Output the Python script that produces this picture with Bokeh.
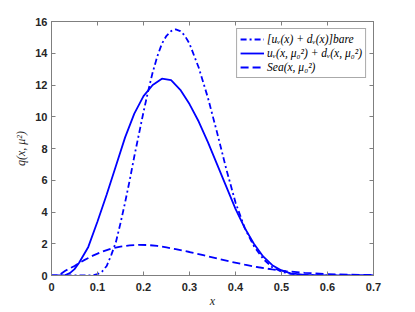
from bokeh.plotting import figure
from bokeh.models import Range1d, FixedTicker, LinearAxis, Legend, LegendItem
from bokeh.embed import file_html
from bokeh.resources import INLINE

# ---- data ----
x_bare = [0.0, 0.08, 0.09, 0.10, 0.11, 0.12, 0.13, 0.14, 0.15, 0.16, 0.17, 0.18, 0.19,
          0.20, 0.21, 0.22, 0.23, 0.24, 0.25, 0.26, 0.27, 0.28, 0.29, 0.30, 0.32,
          0.34, 0.36, 0.38, 0.40, 0.42, 0.44, 0.46, 0.48, 0.50, 0.52, 0.55, 0.60, 0.70]
y_bare = [0.0, 0.0, 0.02, 0.08, 0.25, 0.6, 1.3, 2.1, 3.3, 4.6, 6.0, 7.5, 8.9,
          10.3, 11.6, 12.8, 13.8, 14.6, 15.1, 15.4, 15.5, 15.4, 15.1, 14.6, 13.1,
          11.2, 9.0, 6.7, 4.6, 3.0, 1.85, 1.05, 0.52, 0.24, 0.1, 0.03, 0.0, 0.0]

x_val = [0.0, 0.02, 0.03, 0.04, 0.05, 0.06, 0.08, 0.10, 0.12, 0.14, 0.16, 0.18, 0.20,
         0.22, 0.24, 0.26, 0.28, 0.30, 0.32, 0.34, 0.36, 0.38, 0.40, 0.42, 0.44,
         0.46, 0.48, 0.50, 0.52, 0.55, 0.60, 0.65, 0.70]
y_val = [0.0, 0.0, 0.03, 0.15, 0.4, 0.8, 1.8, 3.4, 5.1, 6.9, 8.7, 10.2, 11.3,
         12.0, 12.4, 12.3, 11.7, 10.8, 9.7, 8.4, 7.0, 5.6, 4.2, 3.0, 2.0,
         1.2, 0.65, 0.32, 0.14, 0.04, 0.01, 0.0, 0.0]

x_sea = [0.02, 0.03, 0.05, 0.07, 0.09, 0.11, 0.13, 0.15, 0.17, 0.19, 0.21, 0.23, 0.25,
         0.27, 0.30, 0.33, 0.36, 0.39, 0.42, 0.45, 0.48, 0.51, 0.55, 0.60, 0.65, 0.70]
y_sea = [0.1, 0.3, 0.6, 0.95, 1.25, 1.5, 1.7, 1.82, 1.9, 1.93, 1.92, 1.86, 1.77,
         1.66, 1.48, 1.28, 1.07, 0.87, 0.68, 0.52, 0.38, 0.27, 0.17, 0.09, 0.05, 0.03]

x_ticks = [0, 0.1, 0.2, 0.3, 0.4, 0.5, 0.6, 0.7]
x_tick_labels = ["0", "0.1", "0.2", "0.3", "0.4", "0.5", "0.6", "0.7"]
y_ticks = [0, 2, 4, 6, 8, 10, 12, 14, 16]
y_tick_labels = ["0", "2", "4", "6", "8", "10", "12", "14", "16"]

legend_labels = ["[uᵥ(x) + dᵥ(x)]bare", "uᵥ(x, μ₀²) + dᵥ(x, μ₀²)", "Sea(x, μ₀²)"]
x_label = "x"
y_label = "q(x, μ²)"

BLUE = "#0000FF"
AX = "#7f7f7f"
TXT = "#262626"

p = figure(width=400, height=310, output_backend="svg", toolbar_location=None,
           x_range=Range1d(0, 0.7), y_range=Range1d(0, 16),
           min_border_left=51, min_border_right=27, min_border_top=21, min_border_bottom=35)
p.grid.visible = False
p.outline_line_color = AX
p.background_fill_color = "white"
p.border_fill_color = "white"

r1 = p.line(x_bare, y_bare, line_color=BLUE, line_width=1.8, line_dash="6 3 2 3")
r2 = p.line(x_val, y_val, line_color=BLUE, line_width=1.8)
r3 = p.line(x_sea, y_sea, line_color=BLUE, line_width=1.8, line_dash="8 4")

def style_axis(ax, ticks, labels, show_labels=True):
    ax.ticker = FixedTicker(ticks=ticks)
    ax.major_label_overrides = {t: l for t, l in zip(ticks, labels)} if show_labels else {t: "" for t in ticks}
    ax.minor_tick_line_color = None
    ax.major_tick_in = 4
    ax.major_tick_out = 0
    ax.axis_line_color = AX
    ax.major_tick_line_color = AX
    ax.major_label_text_color = TXT
    ax.major_label_text_font = "Liberation Sans"
    ax.major_label_text_font_style = "bold"
    ax.major_label_text_font_size = "11px"

style_axis(p.xaxis[0], x_ticks, x_tick_labels)
style_axis(p.yaxis[0], y_ticks, y_tick_labels)
p.xaxis.major_label_standoff = 7
p.yaxis.major_label_standoff = 4

p.xaxis.axis_label = x_label
p.yaxis.axis_label = y_label
for ax in (p.xaxis[0], p.yaxis[0]):
    ax.axis_label_text_font = "Liberation Serif"
    ax.axis_label_text_font_style = "italic"
    ax.axis_label_text_font_size = "12px"
    ax.axis_label_text_color = TXT
p.xaxis.axis_label_standoff = 0
p.yaxis.axis_label_standoff = 4

top = LinearAxis()
style_axis(top, x_ticks, x_tick_labels, show_labels=False)
top.major_label_text_font_size = "0px"
top.major_label_standoff = 0
right = LinearAxis()
style_axis(right, y_ticks, y_tick_labels, show_labels=False)
right.major_label_text_font_size = "0px"
right.major_label_standoff = 0
p.add_layout(top, "above")
p.add_layout(right, "right")

legend = Legend(items=[LegendItem(label=legend_labels[0], renderers=[r1]),
                       LegendItem(label=legend_labels[1], renderers=[r2]),
                       LegendItem(label=legend_labels[2], renderers=[r3])],
                location="top_right", margin=7, padding=3, spacing=0,
                glyph_width=24, glyph_height=14, label_height=14, label_standoff=3,
                label_text_font="Liberation Serif", label_text_font_style="italic",
                label_text_font_size="11.5px", label_text_color="black",
                border_line_color="#555555", border_line_width=1,
                background_fill_color="white", background_fill_alpha=1)
p.add_layout(legend)

open("out.html", "w").write(file_html(p, INLINE))
